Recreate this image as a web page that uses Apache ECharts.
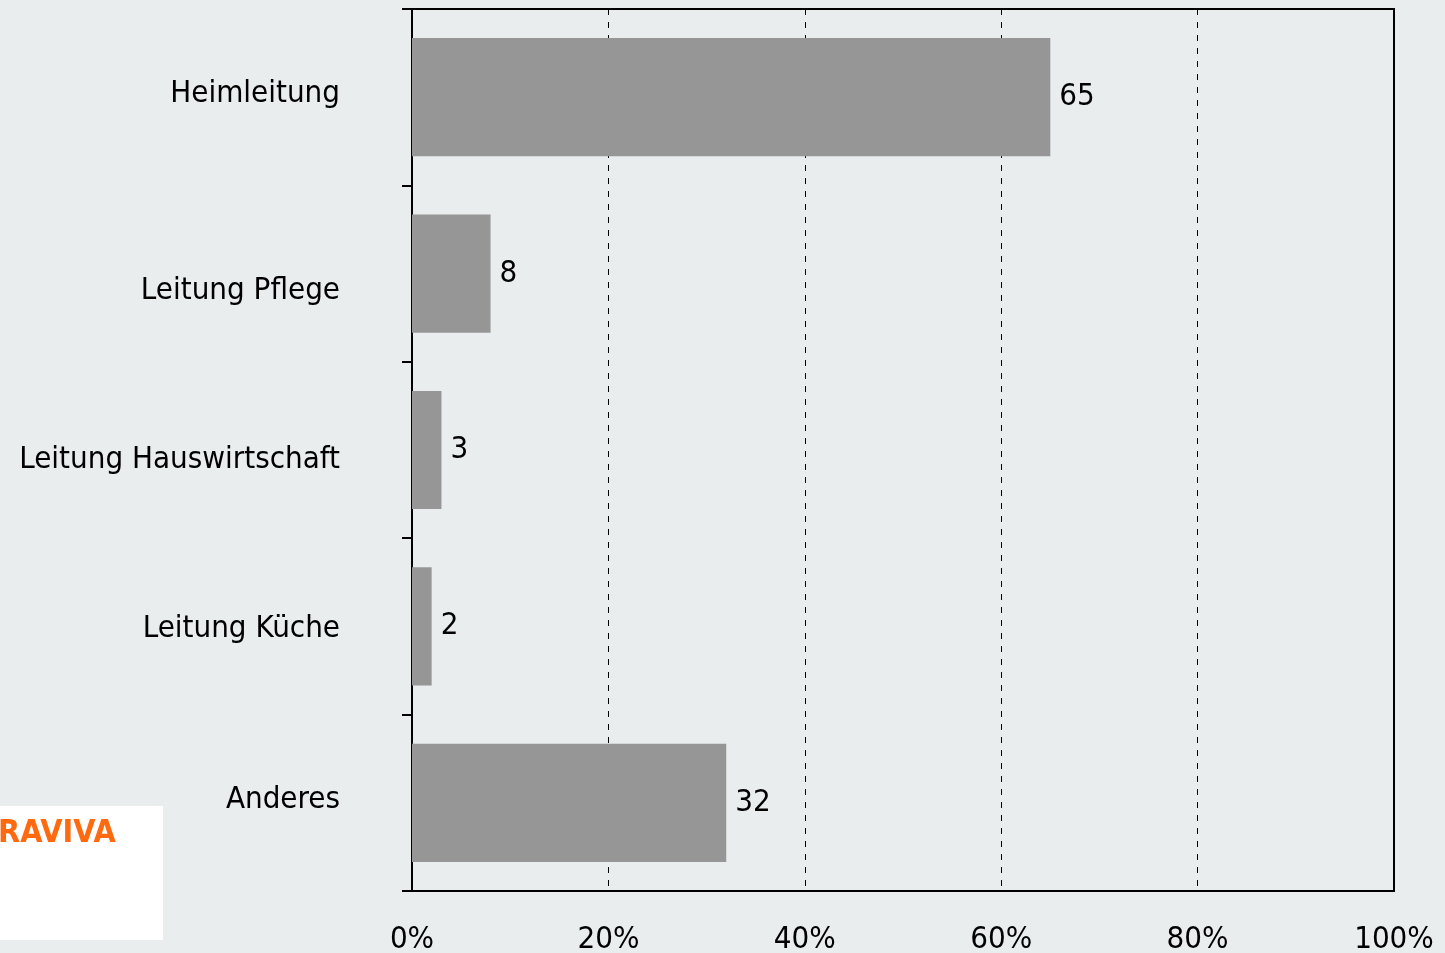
<!DOCTYPE html>
<html>
<head>
<meta charset="utf-8">
<script src="https://cdn.jsdelivr.net/npm/echarts@6/dist/echarts.min.js"></script>
<style>
html,body{margin:0;padding:0;background:#e9eded;}
#c{width:1445px;height:953px;}
</style>
</head>
<body>
<div id="c"></div>
<script>
const categories = ['Heimleitung', 'Leitung Pflege', 'Leitung Hauswirtschaft', 'Leitung Küche', 'Anderes'];
const values = [65, 8, 3, 2, 32];
const xTicks = [0, 20, 40, 60, 80, 100];
const logoText = 'RAVIVA';
// vertical nudge (px) of each category label, as in the reference layout
const labelNudge = [-3, 17, 10, 3, -3];

const FONT = '"DejaVu Sans Condensed", "Liberation Sans", sans-serif';
const rich = {};
labelNudge.forEach((d, i) => {
  rich['s' + i] = {
    color: '#000', fontSize: 31, fontFamily: FONT,
    padding: d >= 0 ? [2 * d, 0, 0, 0] : [0, 0, -2 * d, 0]
  };
});

const chart = echarts.init(document.getElementById('c'), null, {renderer: 'canvas'});
chart.setOption({
  backgroundColor: '#e9eded',
  animation: false,
  grid: {
    left: 412, right: 51, top: 9, bottom: 62,
    outerBoundsMode: 'none', containLabel: false,
    show: true, borderColor: '#000', borderWidth: 2, backgroundColor: 'transparent'
  },
  xAxis: {
    type: 'value',
    min: xTicks[0], max: xTicks[xTicks.length - 1], interval: 20,
    axisLine: {show: true, lineStyle: {color: '#000', width: 2}},
    axisTick: {show: false},
    axisLabel: {
      formatter: v => v + '%', color: '#000', fontSize: 31, fontFamily: FONT, margin: 33
    },
    splitLine: {show: true, lineStyle: {color: '#000', width: 1, type: [6, 7]}}
  },
  yAxis: {
    type: 'category',
    inverse: true,
    data: categories,
    axisLine: {show: true, lineStyle: {color: '#000', width: 2}},
    axisTick: {show: true, length: 10, lineStyle: {color: '#000', width: 2}},
    axisLabel: {
      color: '#000', fontSize: 31, fontFamily: FONT, margin: 72,
      formatter: (v, i) => '{s' + i + '|' + v + '}',
      rich: rich
    }
  },
  series: [{
    type: 'bar',
    data: values,
    barCategoryGap: '33%',
    itemStyle: {color: '#969696'},
    label: {
      show: true, position: 'right', distance: 9,
      color: '#000', fontSize: 31, fontFamily: FONT
    }
  }],
  graphic: [
    {type: 'rect', left: 0, top: 806, shape: {width: 163, height: 134}, style: {fill: '#ffffff'}, z: 10},
    {type: 'text', left: -2, top: 818, style: {text: logoText, fill: '#ff6a10', font: 'bold 32px "DejaVu Sans Condensed", "Liberation Sans", sans-serif'}, z: 11}
  ]
});
</script>
</body>
</html>
